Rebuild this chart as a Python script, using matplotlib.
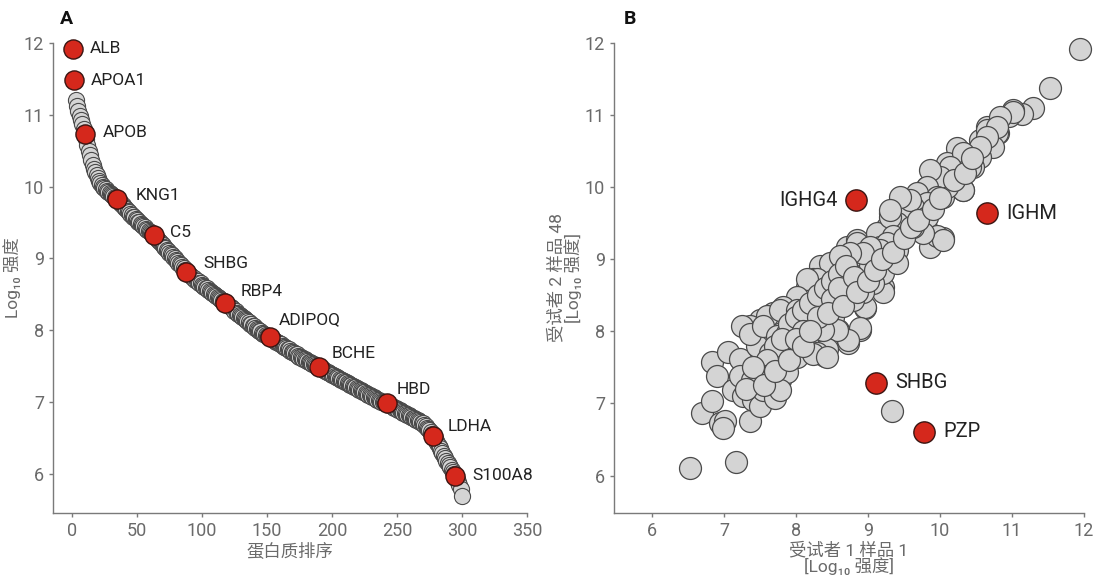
import numpy as np
import matplotlib
matplotlib.use('Agg')
import matplotlib.pyplot as plt

plt.rcParams['font.family'] = ['Roboto', 'Noto Sans CJK SC', 'DejaVu Sans']

# ── panel A: proteins ranked by intensity ─────────────────────────────────────
rank_intensity = [
    11.92, 11.48, 11.21, 11.12, 11.05, 10.98, 10.92, 10.87, 10.80, 10.73,
    10.66, 10.58, 10.50, 10.44, 10.37, 10.30, 10.24, 10.20, 10.16, 10.12,
    10.08, 10.05, 10.02, 10.00, 9.98, 9.96, 9.94, 9.92, 9.91, 9.90,
    9.88, 9.87, 9.86, 9.84, 9.83,
    9.80, 9.78, 9.76, 9.74, 9.72, 9.70, 9.68, 9.66, 9.64, 9.62,
    9.60, 9.58, 9.57, 9.55, 9.53, 9.51, 9.50, 9.48, 9.46, 9.45,
    9.43, 9.41, 9.40, 9.38, 9.37, 9.35, 9.34, 9.32,
    9.30, 9.28, 9.26, 9.24, 9.22, 9.20, 9.18, 9.16, 9.14, 9.12,
    9.10, 9.08, 9.06, 9.04, 9.02, 9.00, 8.98, 8.96, 8.94, 8.92,
    8.90, 8.88, 8.86, 8.84, 8.81,
    8.79, 8.78, 8.76, 8.75, 8.73, 8.72, 8.70, 8.69, 8.68, 8.66,
    8.65, 8.63, 8.62, 8.60, 8.59, 8.58, 8.56, 8.55, 8.53, 8.52,
    8.50, 8.49, 8.48, 8.46, 8.45, 8.43, 8.42, 8.41, 8.40, 8.38,
    8.36, 8.35, 8.33, 8.32, 8.30, 8.29, 8.27, 8.26, 8.24, 8.23,
    8.21, 8.20, 8.18, 8.17, 8.15, 8.14, 8.12, 8.11, 8.09, 8.08,
    8.06, 8.05, 8.03, 8.02, 8.00, 7.99, 7.98, 7.96, 7.95, 7.94,
    7.93, 7.92, 7.91, 7.90,
    7.89, 7.88, 7.87, 7.85, 7.84, 7.83, 7.82, 7.81, 7.80, 7.78,
    7.77, 7.76, 7.75, 7.74, 7.73, 7.71, 7.70, 7.69, 7.68, 7.67,
    7.66, 7.64, 7.63, 7.62, 7.61, 7.60, 7.59, 7.58, 7.57, 7.56,
    7.55, 7.54, 7.53, 7.52, 7.51, 7.50, 7.49, 7.48,
    7.47, 7.46, 7.45, 7.44, 7.43, 7.42, 7.41, 7.40, 7.39, 7.38,
    7.37, 7.36, 7.35, 7.34, 7.33, 7.32, 7.31, 7.30, 7.29, 7.28,
    7.27, 7.26, 7.25, 7.24, 7.23, 7.22, 7.21, 7.20, 7.19, 7.18,
    7.17, 7.16, 7.15, 7.14, 7.13, 7.12, 7.11, 7.10, 7.09, 7.08,
    7.07, 7.06, 7.05, 7.04, 7.03, 7.02, 7.01, 7.00, 6.99, 6.99,
    6.98, 6.98,
    6.97, 6.96, 6.95, 6.94, 6.93, 6.92, 6.91, 6.90, 6.89, 6.88,
    6.87, 6.86, 6.85, 6.84, 6.83, 6.82, 6.81, 6.80, 6.79, 6.78,
    6.77, 6.76, 6.75, 6.74, 6.73, 6.72, 6.71, 6.70, 6.68, 6.66,
    6.64, 6.62, 6.60, 6.58, 6.55, 6.52,
    6.49, 6.46, 6.42, 6.39, 6.35, 6.32, 6.28, 6.25, 6.22, 6.18,
    6.15, 6.12, 6.09, 6.05, 6.02, 5.99, 5.96, 5.92, 5.88, 5.84,
    5.78, 5.68,
]
ranks = np.arange(1, len(rank_intensity) + 1)

a_labels = ["ALB", "APOA1", "APOB", "KNG1", "C5", "SHBG", "RBP4",
            "ADIPOQ", "BCHE", "HBD", "LDHA", "S100A8"]
a_label_ranks = [1, 2, 10, 35, 63, 88, 118, 152, 190, 242, 278, 295]
# label offsets in points (dx, dy)
a_offsets = [(12, 0), (12, 0), (13, 1), (13, 2), (12, 2), (12, 6), (11, 8),
             (7, 13), (9, 10), (7, 10), (10, 7), (12, 1)]

# ── panel B: subject 1 sample 1 vs subject 2 sample 48 ────────────────────────
b_x = [
    11.94, 11.53, 11.29, 11.14, 11.01, 10.96, 10.81, 10.65, 10.56, 11.01,
    10.83, 10.79, 10.65, 10.74, 10.32, 10.24, 10.56, 10.46, 10.32, 10.14,
    10.10, 9.90, 10.04, 10.00, 9.82, 9.76, 9.86, 9.63, 9.68, 9.49,
    9.31, 9.26, 9.44, 9.58, 9.82, 10.04, 9.86, 9.40, 9.26, 9.17,
    8.99, 8.89, 9.07, 9.21, 8.99, 8.75, 8.57, 8.71, 8.85, 8.51,
    8.33, 8.24, 8.15, 9.21, 8.96, 8.89, 8.72, 8.58, 8.40, 8.22,
    8.65, 8.79, 8.51, 8.33, 8.96, 8.89, 8.72, 8.57, 8.33, 8.15,
    8.71, 8.47, 8.29, 8.15, 8.01, 7.82, 7.68, 7.50, 7.36, 8.43,
    8.57, 8.24, 8.06, 7.92, 8.43, 8.29, 9.13, 9.31, 9.40, 9.17,
    8.99, 8.85, 9.03, 9.21, 8.75, 8.57, 9.07, 8.93, 8.79, 6.53,
    7.17, 6.69, 6.83, 6.94, 7.01, 6.99, 7.36, 6.83, 6.90, 7.06,
    7.22, 7.25, 7.13, 7.26, 7.22, 7.40, 7.50, 7.54, 7.71, 7.39,
    7.46, 7.64, 7.78, 7.46, 7.36, 7.64, 7.82, 8.01, 8.24, 8.43,
    7.60, 7.54, 7.74, 7.88, 7.78, 8.01, 8.19, 8.38, 8.01, 7.88,
    7.78, 7.64, 10.79, 10.65, 10.56, 10.32, 10.42, 10.28, 10.32, 10.10,
    10.14, 10.00, 9.86, 9.82, 9.68, 9.96, 9.82, 9.63, 9.49, 9.82,
    9.96, 10.04, 9.76, 9.63, 9.40, 9.31, 9.58, 9.44, 9.31, 9.35,
    9.26, 9.17, 9.03, 8.93, 8.75, 8.61, 9.40, 7.90, 8.00, 8.10,
    8.20, 8.30, 8.40, 8.50, 8.60, 8.70, 7.70, 7.80, 8.10, 8.30,
    8.50, 8.60, 8.80, 8.00, 7.60, 7.50, 7.40, 7.30, 7.55, 7.70,
    7.90, 8.10, 8.20, 8.45, 8.65, 8.85, 9.00, 9.10, 9.20, 9.35,
    9.50, 9.60, 9.70, 9.90, 10.00, 10.20, 10.35, 10.45, 9.33,
]
b_y = [
    11.92, 11.38, 11.10, 11.02, 11.07, 10.99, 10.75, 10.84, 10.66, 11.04,
    10.97, 10.75, 10.79, 10.56, 10.48, 10.55, 10.42, 10.28, 9.96, 10.20,
    10.34, 10.20, 9.87, 10.00, 10.00, 9.82, 9.73, 9.82, 9.64, 9.59,
    9.64, 9.45, 9.41, 9.45, 9.41, 9.30, 9.17, 9.23, 9.17, 9.09,
    9.17, 9.09, 8.90, 8.62, 8.67, 8.90, 8.99, 9.17, 9.27, 8.72,
    8.90, 8.72, 8.62, 8.55, 8.33, 8.02, 7.84, 8.02, 7.66, 7.70,
    8.40, 8.58, 8.20, 8.02, 8.34, 8.05, 7.88, 8.02, 7.75, 7.88,
    9.02, 8.95, 8.72, 8.72, 8.48, 8.34, 8.26, 8.16, 8.07, 8.30,
    8.48, 8.12, 8.02, 7.93, 7.75, 7.70, 9.37, 9.23, 9.13, 9.17,
    9.13, 9.23, 8.90, 8.81, 8.81, 8.72, 8.67, 8.54, 8.44, 6.11,
    6.19, 6.87, 7.04, 6.73, 6.76, 6.66, 6.76, 7.57, 7.38, 7.72,
    7.61, 8.07, 7.19, 7.10, 7.38, 7.05, 6.96, 7.19, 7.08, 7.33,
    7.51, 7.29, 7.33, 7.79, 7.97, 7.70, 7.57, 7.65, 7.68, 7.65,
    8.21, 8.07, 7.93, 7.98, 8.30, 8.30, 8.12, 8.02, 7.84, 7.43,
    7.19, 7.47, 10.84, 10.70, 10.56, 10.48, 10.28, 10.06, 9.96, 10.00,
    10.28, 10.14, 10.24, 10.00, 9.92, 9.87, 9.78, 9.73, 9.64, 9.59,
    9.32, 9.27, 9.37, 9.45, 9.50, 9.59, 9.82, 9.87, 9.69, 9.32,
    9.23, 9.13, 9.17, 9.09, 9.09, 9.04, 8.95, 8.10, 8.20, 8.30,
    8.40, 8.50, 8.60, 8.70, 8.80, 8.90, 7.80, 7.90, 8.00, 8.20,
    8.45, 8.60, 8.75, 7.90, 7.60, 7.40, 7.50, 7.20, 7.25, 7.45,
    7.60, 7.80, 8.00, 8.25, 8.35, 8.55, 8.70, 8.85, 9.00, 9.10,
    9.30, 9.45, 9.55, 9.70, 9.85, 10.10, 10.20, 10.40, 6.90,
]

b_labels = ["IGHG4", "IGHM", "SHBG", "PZP"]
b_red_x = [8.83, 10.65, 9.11, 9.78]
b_red_y = [9.82, 9.64, 7.29, 6.61]

RED = '#D5281C'
RED_EDGE = '#3a1512'
GRAY = '#D4D4D4'
GRAY_EDGE = '#4a4a4a'
AXIS_GRAY = '#7a7a7a'
TICK_TEXT = '#6a6a6a'
LABEL_TEXT = '#222222'

W, H = 1097, 578
fig = plt.figure(figsize=(W / 100, H / 100), dpi=100)


def px_axes(left, right, top, bottom):
    return fig.add_axes([left / W, 1 - bottom / H, (right - left) / W, (bottom - top) / H])


def style(ax):
    for s in ['top', 'right']:
        ax.spines[s].set_visible(False)
    for s in ['left', 'bottom']:
        ax.spines[s].set_color(AXIS_GRAY)
        ax.spines[s].set_linewidth(1.0)
    ax.tick_params(colors=AXIS_GRAY, labelcolor=TICK_TEXT, labelsize=13,
                   length=3, width=1.0)


# ── A ─────────────────────────────────────────────────────────────────────────
axA = px_axes(53, 527, 43, 513)
axA.scatter(ranks, rank_intensity, s=135, c=GRAY, edgecolors=GRAY_EDGE,
            linewidths=0.8, clip_on=False, zorder=2)
red_idx = [r - 1 for r in a_label_ranks]
axA.scatter(ranks[red_idx], [rank_intensity[i] for i in red_idx], s=190, c=RED,
            edgecolors=RED_EDGE, linewidths=1.0, clip_on=False, zorder=3)
for lab, i, (dx, dy) in zip(a_labels, red_idx, a_offsets):
    axA.annotate(lab, (ranks[i], rank_intensity[i]), xytext=(dx, dy),
                 textcoords='offset points', ha='left', va='center',
                 fontsize=12.5, color=LABEL_TEXT, zorder=4)
axA.set_xlim(-14.5, 350)
axA.set_ylim(5.45, 12)
axA.set_xticks([0, 50, 100, 150, 200, 250, 300, 350])
axA.set_yticks([6, 7, 8, 9, 10, 11, 12])
style(axA)
axA.set_xlabel('蛋白质排序', fontsize=12.5, color=TICK_TEXT, labelpad=2)
axA.set_ylabel('Log₁₀ 强度', fontsize=12.5, color=TICK_TEXT, labelpad=2)

# ── B ─────────────────────────────────────────────────────────────────────────
axB = px_axes(614, 1084, 43, 513)
axB.scatter(b_x, b_y, s=250, c=GRAY, edgecolors=GRAY_EDGE, linewidths=0.9,
            clip_on=False, zorder=2)
axB.scatter(b_red_x, b_red_y, s=235, c=RED, edgecolors=RED_EDGE,
            linewidths=1.0, clip_on=False, zorder=3)
for lab, x, y in zip(b_labels, b_red_x, b_red_y):
    if lab == "IGHG4":
        axB.annotate(lab, (x, y), xytext=(-13, 0), textcoords='offset points',
                     ha='right', va='center', fontsize=14.5, color=LABEL_TEXT)
    else:
        axB.annotate(lab, (x, y), xytext=(14, 0), textcoords='offset points',
                     ha='left', va='center', fontsize=14.5, color=LABEL_TEXT)
axB.set_xlim(5.47, 12)
axB.set_ylim(5.48, 12)
axB.set_xticks([6, 7, 8, 9, 10, 11, 12])
axB.set_yticks([6, 7, 8, 9, 10, 11, 12])
style(axB)
axB.set_xlabel('受试者 1 样品 1\n[Log₁₀ 强度]', fontsize=12.5,
               color=TICK_TEXT, labelpad=1, linespacing=0.95)
axB.set_ylabel('受试者 2 样品 48\n[Log₁₀ 强度]', fontsize=12.5,
               color=TICK_TEXT, labelpad=2, linespacing=0.95)

fig.text(60 / W, 1 - 19 / H, 'A', fontsize=14, fontweight='bold',
         color='#111111', va='center', ha='left')
fig.text(624 / W, 1 - 19 / H, 'B', fontsize=14, fontweight='bold',
         color='#111111', va='center', ha='left')

fig.savefig('out.png', dpi=100)
